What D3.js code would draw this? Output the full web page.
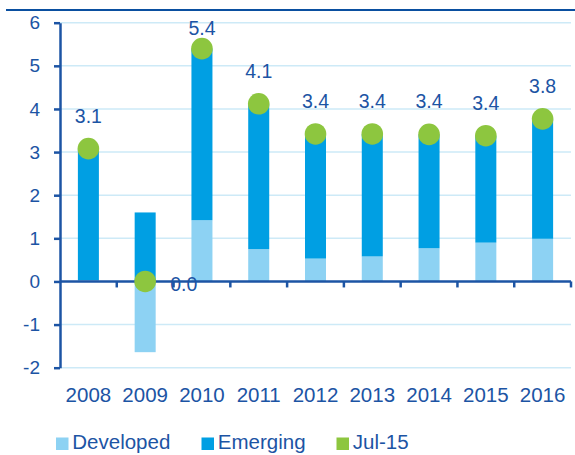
<!DOCTYPE html>
<html>
<head>
<meta charset="utf-8">
<script src="https://cdn.jsdelivr.net/npm/d3@7"></script>
<style>
  body { margin: 0; background: #fff; }
  svg { display: block; font-family: "Liberation Sans", Arial, sans-serif; }
</style>
</head>
<body>
<div id="chart"></div>
<script>
'use strict';

const years = ['2008', '2009', '2010', '2011', '2012', '2013', '2014', '2015', '2016'];
const developed = [0.03, -1.64, 1.42, 0.75, 0.53, 0.58, 0.77, 0.90, 0.99];
const emerging = [3.05, 1.60, 3.98, 3.37, 2.89, 2.84, 2.64, 2.48, 2.78];
const jul15 = [3.08, 0.0, 5.4, 4.12, 3.42, 3.42, 3.41, 3.38, 3.77];
const yTicks = [-2, -1, 0, 1, 2, 3, 4, 5, 6];

const colors = {
  'Developed': '#8dd2f3',
  'Emerging': '#009fe3',
  'Jul-15': '#8dc63f',
  'text': '#1c54a4',
  'grid': '#cdeaf7'
};

function drawChart() {
  const width = 575, height = 455;
  const left = 60, right = 571;

  const svg = d3.select('#chart').append('svg')
    .attr('width', width)
    .attr('height', height);

  const x = d3.scaleBand().domain(years).range([left, right]).padding(0);
  const y = d3.scaleLinear().domain([-2, 6]).range([367.7, 22.7]);
  const barW = x.bandwidth() * 0.37;
  const cx = d => x(d) + x.bandwidth() / 2;

  // top rule
  svg.append('line')
    .attr('x1', 6).attr('x2', width)
    .attr('y1', 10).attr('y2', 10)
    .attr('stroke', '#0a4fa0').attr('stroke-width', 2.2);

  // gridlines
  svg.append('g').selectAll('line')
    .data(yTicks.filter(t => t !== 0))
    .join('line')
    .attr('x1', left).attr('x2', right)
    .attr('y1', d => y(d)).attr('y2', d => y(d))
    .attr('stroke', colors.grid).attr('stroke-width', 1.5);

  // stacked bars
  const rows = years.map((yr, i) => ({ year: yr, Developed: developed[i], Emerging: emerging[i] }));
  const series = d3.stack()
    .keys(['Developed', 'Emerging'])
    .offset(d3.stackOffsetDiverging)(rows);

  svg.append('g').selectAll('g')
    .data(series)
    .join('g')
    .attr('fill', d => colors[d.key])
    .selectAll('rect')
    .data(d => d)
    .join('rect')
    .attr('x', d => x(d.data.year) + (x.bandwidth() - barW) / 2)
    .attr('y', d => y(Math.max(d[0], d[1])))
    .attr('width', barW)
    .attr('height', d => Math.abs(y(d[0]) - y(d[1])));

  // value labels (near-zero value goes to the right of its dot)
  const fmt = d3.format('.1f');
  const nearZero = i => Math.abs(jul15[i]) < 0.5;
  svg.append('g').selectAll('text')
    .data(years)
    .join('text')
    .attr('font-size', 19.5)
    .attr('fill', colors.text)
    .attr('text-anchor', (d, i) => nearZero(i) ? 'start' : 'middle')
    .attr('x', (d, i) => nearZero(i) ? cx(d) + 25 : cx(d))
    .attr('y', (d, i) => nearZero(i) ? y(jul15[i]) + 10 : Math.max(y(jul15[i]) - 26, 35))
    .text((d, i) => fmt(jul15[i]));

  // y axis
  const yAxis = svg.append('g')
    .attr('transform', `translate(${left},0)`)
    .call(d3.axisLeft(y).tickValues(yTicks).tickFormat(d => String(d)).tickSize(6).tickSizeOuter(0).tickPadding(14));
  yAxis.select('.domain').attr('stroke', colors.text).attr('stroke-width', 2.5);
  yAxis.selectAll('.tick line').attr('stroke', colors.text).attr('stroke-width', 2.5);
  yAxis.selectAll('.tick text')
    .attr('fill', colors.text)
    .attr('font-size', 19)
    .attr('font-family', '"Liberation Sans", Arial, sans-serif');

  // x axis line at zero, ticks between categories
  svg.append('line')
    .attr('x1', left).attr('x2', right)
    .attr('y1', y(0)).attr('y2', y(0))
    .attr('stroke', colors.text).attr('stroke-width', 2.5);
  svg.append('g').selectAll('line')
    .data(years)
    .join('line')
    .attr('x1', d => x(d) + x.bandwidth()).attr('x2', d => x(d) + x.bandwidth())
    .attr('y1', y(0)).attr('y2', y(0) + 6)
    .attr('stroke', colors.text).attr('stroke-width', 2.5);

  // category labels
  svg.append('g').selectAll('text')
    .data(years)
    .join('text')
    .attr('x', d => cx(d))
    .attr('y', 401.5)
    .attr('text-anchor', 'middle')
    .attr('font-size', 20.5)
    .attr('fill', colors.text)
    .text(d => d);

  // Jul-15 dots
  svg.append('g').selectAll('circle')
    .data(years)
    .join('circle')
    .attr('cx', d => cx(d))
    .attr('cy', (d, i) => y(jul15[i]))
    .attr('r', 10.8)
    .attr('fill', colors['Jul-15']);

  // legend
  const legendItems = [
    { key: 'Developed', x: 56 },
    { key: 'Emerging', x: 201.5 },
    { key: 'Jul-15', x: 336.5 }
  ];
  const lg = svg.append('g').selectAll('g')
    .data(legendItems)
    .join('g')
    .attr('transform', d => `translate(${d.x},437.5)`);
  lg.append('rect')
    .attr('width', 12.5).attr('height', 12.5)
    .attr('fill', d => colors[d.key]);
  lg.append('text')
    .attr('x', 16.3).attr('y', 11.8)
    .attr('font-size', 20.5)
    .attr('fill', colors.text)
    .text(d => d.key);
}

drawChart();
</script>
</body>
</html>
